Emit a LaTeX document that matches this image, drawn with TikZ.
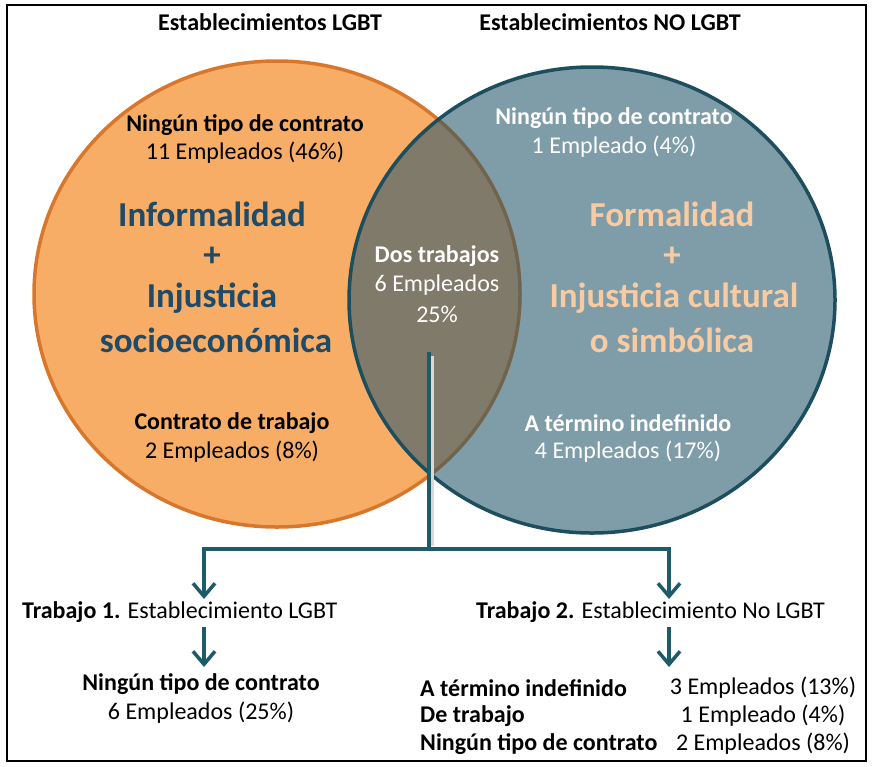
\documentclass[tikz,border=0pt]{standalone}
\usepackage{fontspec}
\setmainfont{Carlito}
\usetikzlibrary{arrows.meta}
\definecolor{orfill}{HTML}{F7AD66}
\definecolor{orline}{HTML}{D8772C}
\definecolor{tlfill}{HTML}{7F9DA8}
\definecolor{tlline}{HTML}{1D4E5E}
\definecolor{mixfill}{HTML}{7F7A69}
\definecolor{mixline}{HTML}{6C6552}
\definecolor{dkblue}{HTML}{1F4A68}
\definecolor{peach}{HTML}{F9CBA3}
\definecolor{conn}{HTML}{1D5A6A}
\tikzset{
  lbl/.style={font=\fontsize{24}{28}\selectfont\bfseries, inner sep=0pt},
  txt/.style={font=\fontsize{24}{28}\selectfont, inner sep=0pt},
  big/.style={font=\fontsize{35}{40}\selectfont\bfseries, inner sep=0pt},
  arr/.style={conn, line width=3.5pt, -{Straight Barb[length=13pt,width=22pt,line width=3.5pt]}},
  lnk/.style={conn, line width=3.5pt},
}
\def\leftE{(277,294) ellipse [x radius=243, y radius=233]}
\def\rightE{(592,300) ellipse [x radius=243, y radius=233]}
\begin{document}
\begin{tikzpicture}[x=1pt,y=-1pt]
\useasboundingbox (0,0) rectangle (872,766);
\draw[line width=2pt] (7,5) rectangle (866,761);
% circles
\fill[orfill] \leftE;
\begin{scope}
  \clip \rightE;
  \fill[tlfill] \rightE;
  \fill[mixfill] \leftE;
\end{scope}
\draw[orline, line width=3.5pt] \leftE;
\begin{scope}
  \clip \rightE;
  \draw[mixline, line width=3.5pt] \leftE;
\end{scope}
\draw[tlline, line width=3.5pt] \rightE;
% headers
\node[lbl] (h1) at (270,22) {Establecimientos LGBT};
\node[lbl] (h2) at (610,22) {Establecimientos NO LGBT};
% left circle
\node[lbl] (l1) at (245,125) {Ningún tipo de contrato};
\node[txt] (l2) at (245,153) {11 Empleados (46\%)};
\node[big, text=dkblue] (l3) at (212,214) {Informalidad};
\node[big, text=dkblue] (l4) at (212,257) {+};
\node[big, text=dkblue] (l5) at (212,298) {Injusticia};
\node[big, text=dkblue] (l6) at (216,340) {socioeconómica};
\node[lbl] (l7) at (232,423) {Contrato de trabajo};
\node[txt] (l8) at (232,452) {2 Empleados (8\%)};
% intersection
\node[lbl, text=white] (m1) at (437,256) {Dos trabajos};
\node[txt, text=white] (m2) at (437,285) {6 Empleados};
\node[txt, text=white] (m3) at (437,314) {25\%};
% right circle
\node[lbl, text=white] (r1) at (614,118) {Ningún tipo de contrato};
\node[txt, text=white] (r2) at (614,147) {1 Empleado (4\%)};
\node[big, text=peach] (r3) at (672,214) {Formalidad};
\node[big, text=peach] (r4) at (672,257) {+};
\node[big, text=peach] (r5) at (674,298) {Injusticia cultural};
\node[big, text=peach] (r6) at (672,340) {o simbólica};
\node[lbl, text=white] (r7) at (628,423) {A término indefinido};
\node[txt, text=white] (r8) at (628,452) {4 Empleados (17\%)};
% bottom
\node[txt, anchor=west] (t1) at (22,612) {\textbf{Trabajo 1.} Establecimiento LGBT};
\node[txt, anchor=west] (t2) at (476,612) {\textbf{Trabajo 2.} Establecimiento No LGBT};
\node[lbl] (b1) at (201,684) {Ningún tipo de contrato};
\node[txt] (b2) at (201,713) {6 Empleados (25\%)};
\node[lbl, anchor=west] (k1) at (420,688) {A término indefinido};
\node[lbl, anchor=west] (k2) at (420,716) {De trabajo};
\node[lbl, anchor=west] (k3) at (420,744) {Ningún tipo de contrato};
\node[txt] (v1) at (763,688) {3 Empleados (13\%)};
\node[txt] (v2) at (763,716) {1 Empleado (4\%)};
\node[txt] (v3) at (763,744) {2 Empleados (8\%)};
% connectors
\coordinate (top) at (429,352);
\coordinate (mid) at (429,549);
\coordinate (c1) at (204,549);
\coordinate (c2) at (669,549);
\draw[gray!30, line width=3pt] (432.5,356) -- (432.5,546);
\draw[lnk] (top) -- (mid);
\draw[lnk, line cap=rect] (c1) -- (c2);
\draw[arr] (c1) -- (c1 |- 0,599);
\draw[arr] (c2) -- (c2 |- 0,599);
\coordinate (s1) at (204,627);
\coordinate (s2) at (669,627);
\draw[arr] (s1) -- (s1 |- 0,667);
\draw[arr] (s2) -- (s2 |- 0,667);
\end{tikzpicture}
\end{document}
